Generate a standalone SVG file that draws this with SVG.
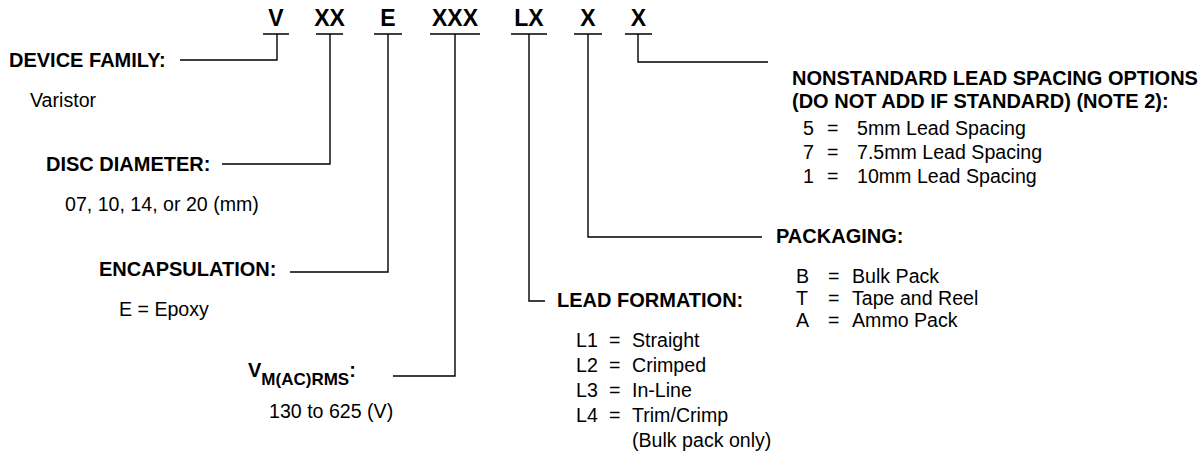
<svg xmlns="http://www.w3.org/2000/svg" width="1202" height="455" viewBox="0 0 1202 455">
<style>
text{font-family:"Liberation Sans",Arial,sans-serif;fill:#000}
.code{font-size:23px;font-weight:bold;text-anchor:middle}
.lbl{font-size:20px;font-weight:bold}
.sub{font-size:17px;font-weight:bold}
.val{font-size:19.6px}
.ln{fill:none;stroke:#000;stroke-width:1.4}
</style>
<rect width="1202" height="455" fill="#fff"/>
<g id="code">
<text class="code" x="276" y="26">V</text>
<text class="code" x="329.5" y="26">XX</text>
<text class="code" x="388" y="26">E</text>
<text class="code" x="455" y="26">XXX</text>
<text class="code" x="529" y="26">LX</text>
<text class="code" x="588" y="26">X</text>
<text class="code" x="638.5" y="26">X</text>
</g>
<g id="connectors">
<path class="ln" d="M263,34H289 M316,34H343 M374,34H402 M430,34H480 M511,34H547 M574,34H602 M625,34H652"/>
<path class="ln" d="M277,34V60H180"/>
<path class="ln" d="M330,34V164H222"/>
<path class="ln" d="M388,34V272H290"/>
<path class="ln" d="M455,34V376H393"/>
<path class="ln" d="M529,34V301H545"/>
<path class="ln" d="M588,34V237H762"/>
<path class="ln" d="M638,34V62H768"/>
</g>
<g id="device-family">
<text class="lbl" x="9" y="67">DEVICE FAMILY:</text>
<text class="val" x="30" y="107">Varistor</text>
</g>
<g id="disc-diameter">
<text class="lbl" x="46" y="171">DISC DIAMETER:</text>
<text class="val" x="65" y="211">07, 10, 14, or 20 (mm)</text>
</g>
<g id="encapsulation">
<text class="lbl" x="99" y="276">ENCAPSULATION:</text>
<text class="val" x="119" y="316">E = Epoxy</text>
</g>
<g id="vm">
<text class="lbl" x="248" y="377">V<tspan class="sub" dy="8">M(AC)RMS</tspan><tspan dy="-8">:</tspan></text>
<text class="val" x="269" y="418">130 to 625 (V)</text>
</g>
<g id="lead-formation">
<text class="lbl" x="557" y="307">LEAD FORMATION:</text>
<text class="val" x="576" y="347">L1</text><text class="val" x="609" y="347">=</text><text class="val" x="632" y="347">Straight</text>
<text class="val" x="576" y="372">L2</text><text class="val" x="609" y="372">=</text><text class="val" x="632" y="372">Crimped</text>
<text class="val" x="576" y="397">L3</text><text class="val" x="609" y="397">=</text><text class="val" x="632" y="397">In-Line</text>
<text class="val" x="576" y="422">L4</text><text class="val" x="609" y="422">=</text><text class="val" x="632" y="422">Trim/Crimp</text>
<text class="val" x="632" y="447">(Bulk pack only)</text>
</g>
<g id="packaging">
<text class="lbl" x="776" y="243">PACKAGING:</text>
<text class="val" x="796" y="283">B</text><text class="val" x="828" y="283">=</text><text class="val" x="852" y="283">Bulk Pack</text>
<text class="val" x="796" y="305">T</text><text class="val" x="828" y="305">=</text><text class="val" x="852" y="305">Tape and Reel</text>
<text class="val" x="796" y="327">A</text><text class="val" x="828" y="327">=</text><text class="val" x="852" y="327">Ammo Pack</text>
</g>
<g id="lead-spacing">
<text class="lbl" x="792" y="85">NONSTANDARD LEAD SPACING OPTIONS</text>
<text class="lbl" x="792" y="108">(DO NOT ADD IF STANDARD) (NOTE 2):</text>
<text class="val" x="803" y="135">5</text><text class="val" x="827" y="135">=</text><text class="val" x="857" y="135">5mm Lead Spacing</text>
<text class="val" x="803" y="159">7</text><text class="val" x="827" y="159">=</text><text class="val" x="857" y="159">7.5mm Lead Spacing</text>
<text class="val" x="803" y="183">1</text><text class="val" x="827" y="183">=</text><text class="val" x="857" y="183">10mm Lead Spacing</text>
</g>
</svg>
